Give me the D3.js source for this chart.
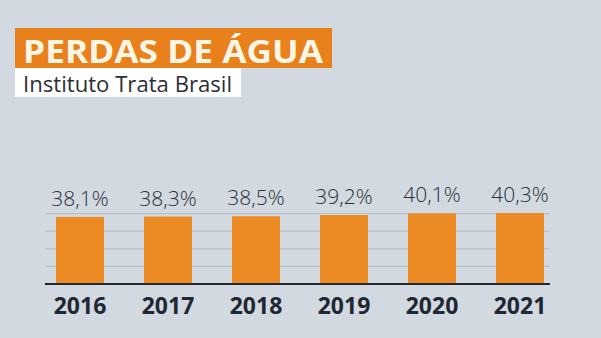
<!DOCTYPE html>
<html><head><meta charset="utf-8">
<script src="https://cdn.jsdelivr.net/npm/d3@7"></script>
<style>html,body{margin:0;padding:0;background:#d2d9e0;}svg{display:block;}</style>
</head><body>
<svg id="c" width="601" height="338"></svg>
<script>
const years = ["2016","2017","2018","2019","2020","2021"];
const values = [38.1, 38.3, 38.5, 39.2, 40.1, 40.3];
const labels = ["38,1%","38,3%","38,5%","39,2%","40,1%","40,3%"];
const gridTicks = [10, 20, 30, 40];
const title = "PERDAS DE ÁGUA";
const subtitle = "Instituto Trata Brasil";

const svg = d3.select("#c");
svg.append("rect").attr("width",601).attr("height",338).attr("fill","#d2d9e0");

// title boxes
svg.append("rect").attr("x",15).attr("y",28).attr("width",317).attr("height",40).attr("fill","#e8801c");
svg.append("rect").attr("x",15).attr("y",68).attr("width",226).attr("height",29).attr("fill","#ffffff");
svg.append("text").attr("x",23).attr("y",63).attr("font-family","Open Sans, sans-serif")
  .attr("font-weight",700).attr("font-size",32).attr("fill","#fff6e6")
  .attr("textLength",300).attr("lengthAdjust","spacingAndGlyphs").text(title);
svg.append("text").attr("x",23).attr("y",92).attr("font-family","Open Sans, sans-serif")
  .attr("font-weight",400).attr("font-size",21).attr("fill","#2b2f36")
  .attr("textLength",209).attr("lengthAdjust","spacingAndGlyphs").text(subtitle);

const x = d3.scaleBand().domain(years).range([36,564]).paddingInner(0.4545).paddingOuter(0.2273);
const y = d3.scaleLinear().domain([0,40]).range([284,213.6]);

// gridlines
svg.append("g").selectAll("line").data(gridTicks).join("line")
  .attr("x1",45).attr("x2",550).attr("y1",d=>y(d)).attr("y2",d=>y(d))
  .attr("stroke","#b4bbc3").attr("stroke-width",1);

// bars
svg.append("g").selectAll("rect").data(values).join("rect")
  .attr("x",(d,i)=>x(years[i])).attr("width",x.bandwidth())
  .attr("y",d=>y(d)).attr("height",d=>y(0)-y(d)).attr("fill","#ec8a24");

// baseline
svg.append("line").attr("x1",45).attr("x2",550).attr("y1",y(0)).attr("y2",y(0))
  .attr("stroke","#1e2733").attr("stroke-width",2);

// value labels
svg.append("g").selectAll("text").data(values).join("text")
  .attr("x",(d,i)=>x(years[i])+x.bandwidth()/2).attr("y",d=>y(d)-11)
  .attr("text-anchor","middle").attr("font-family","Open Sans, sans-serif")
  .attr("font-weight",300).attr("font-size",21).attr("fill","#2a303a")
  .text((d,i)=>labels[i]);

// year labels
svg.append("g").selectAll("text").data(years).join("text")
  .attr("x",d=>x(d)+x.bandwidth()/2).attr("y",314)
  .attr("text-anchor","middle").attr("font-family","Open Sans, sans-serif")
  .attr("font-weight",700).attr("font-size",23).attr("fill","#1e2733")
  .text(d=>d);
</script>
</body></html>
